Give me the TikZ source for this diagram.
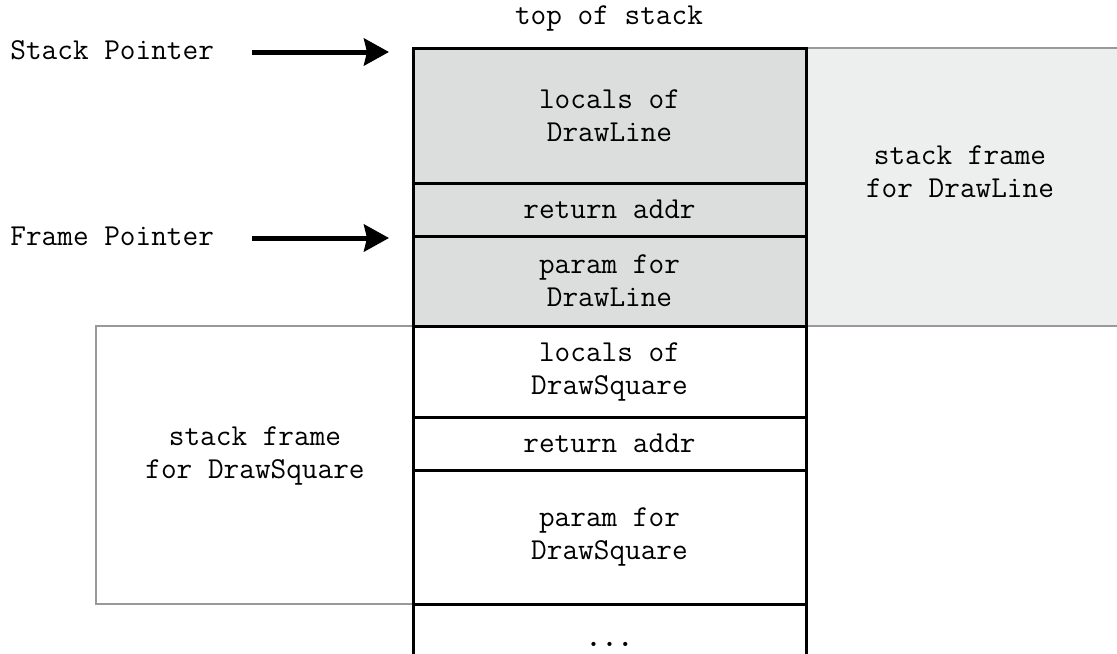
\documentclass[tikz,border=0pt]{standalone}
\usepackage{fontspec}
\usetikzlibrary{arrows.meta}
\definecolor{cellgray}{HTML}{DCDDDD}
\definecolor{framegray}{HTML}{EDEEEE}
\definecolor{linegray}{HTML}{999999}
\begin{document}
\begin{tikzpicture}[x=0.5pt,y=-0.5pt,
  every node/.style={font=\fontsize{15.2}{16.5}\selectfont\ttfamily, align=center, inner sep=0pt},
  cell/.style={draw=black, line width=1.5pt, minimum width=196.5pt},
  frame/.style={draw=linegray, line width=1pt},
  ptr/.style={line width=2.5pt, -{Stealth[length=12.5pt,width=13.5pt,inset=1.5pt]}}]
\useasboundingbox (0,0) rectangle (1117,653);
\clip (0,0) rectangle (1117,653);
% stack frame regions
\path[fill=framegray] (806,48) rectangle (1140,326);
\draw[frame] (806,48) -- (1140,48);
\draw[frame] (806,326) -- (1140,326);
\draw[frame] (413,326) -- (96,326) -- (96,604) -- (413,604);
\node (lineframe) at (960,172) {stack frame\\for DrawLine};
\node (sqframe) at (255,456) {stack frame\\for DrawSquare};
% stack cells
\node[cell, fill=cellgray, minimum height=67.5pt] (c1) at (609.5,115.5) {locals of\\DrawLine};
\node[cell, fill=cellgray, minimum height=26.5pt] (c2) at (609.5,209.5) {return addr};
\node[cell, fill=cellgray, minimum height=45pt] (c3) at (609.5,281) {param for\\DrawLine};
\node[cell, minimum height=45.5pt] (c4) at (609.5,371.5) {locals of\\DrawSquare};
\node[cell, minimum height=26.5pt] (c5) at (609.5,443.5) {return addr};
\node[cell, minimum height=67pt] (c6) at (609.5,537) {param for\\DrawSquare};
\node[cell, minimum height=40pt] (c7) at (609.5,644) {\textbf{...}};
\node (top) at (609,18) {top of stack};
% pointers
\node[anchor=west] (sp) at (10,50) {Stack Pointer};
\node[anchor=west] (fp) at (10,236) {Frame Pointer};
\coordinate (sps) at (252,52);
\coordinate (spe) at (389,52);
\coordinate (fps) at (252,238);
\coordinate (fpe) at (389,238);
\draw[ptr] (sps) -- (spe);
\draw[ptr] (fps) -- (fpe);
\end{tikzpicture}
\end{document}
